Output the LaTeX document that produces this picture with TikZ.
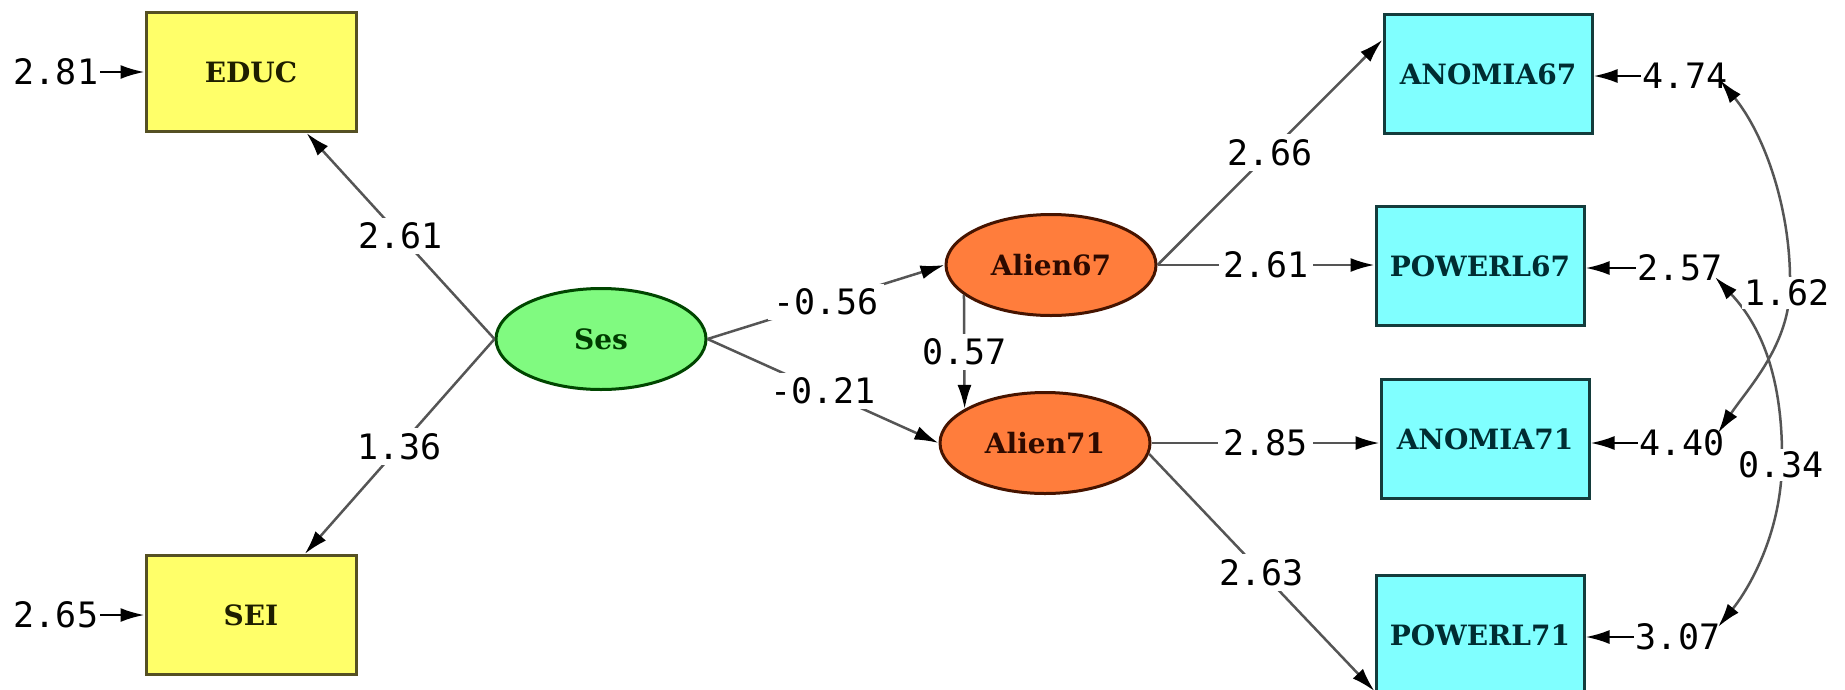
\documentclass[tikz,border=0pt]{standalone}
\usepackage{fontspec}
\usetikzlibrary{shapes.geometric,arrows.meta}
\newfontfamily\numfont{DejaVu Sans Mono}
\newfontfamily\namefont{DejaVu Serif}
\definecolor{yelfill}{RGB}{255,255,105}
\definecolor{yeldraw}{RGB}{85,80,35}
\definecolor{yeltext}{RGB}{30,30,0}
\definecolor{grnfill}{RGB}{128,250,128}
\definecolor{grndraw}{RGB}{0,70,0}
\definecolor{grntext}{RGB}{0,60,0}
\definecolor{orgfill}{RGB}{255,125,60}
\definecolor{orgdraw}{RGB}{70,20,0}
\definecolor{orgtext}{RGB}{45,10,0}
\definecolor{cyfill}{RGB}{128,255,255}
\definecolor{cydraw}{RGB}{20,60,60}
\definecolor{cytext}{RGB}{0,45,50}
\definecolor{linegray}{RGB}{85,85,85}
\tikzset{
  namefnt/.style={font=\namefont\bfseries\fontsize{28pt}{30pt}\selectfont},
  obs/.style={rectangle, line width=3pt, minimum width=210pt, minimum height=119pt, inner sep=0pt, namefnt},
  yel/.style={obs, fill=yelfill, draw=yeldraw, text=yeltext},
  cy/.style={obs, fill=cyfill, draw=cydraw, text=cytext, minimum width=208pt},
  lat/.style={ellipse, line width=3pt, minimum width=210pt, minimum height=101pt, inner sep=0pt, namefnt},
  sesst/.style={lat, fill=grnfill, draw=grndraw, text=grntext},
  alst/.style={lat, fill=orgfill, draw=orgdraw, text=orgtext},
  lbl/.style={fill=white, inner sep=5pt, font=\numfont\fontsize{35pt}{36pt}\selectfont, text=black},
  errlbl/.style={inner sep=2pt, font=\numfont\fontsize{35pt}{36pt}\selectfont, text=black},
  tipb/.tip={Latex[length=24pt,width=14pt,color=black]},
  arr/.style={draw=linegray, line width=2.5pt, -tipb},
  earr/.style={draw=black, line width=2.5pt, -tipb},
  cov/.style={draw=linegray, line width=2.5pt, tipb-tipb}
}
\begin{document}
\begin{tikzpicture}[x=1pt,y=-1pt]
\useasboundingbox (0,0) rectangle (1845,689);
\fill[white] (0,0) rectangle (1845,689);

% observed, left
\node[yel] (educ) at (251,72) {EDUC};
\node[yel] (sei) at (251,615) {SEI};
% latent
\node[sesst] (ses) at (601,339) {Ses};
\node[alst] (a67) at (1051,265) {Alien67};
\node[alst] (a71) at (1045,443) {Alien71};
% observed, right
\node[cy] (an67) at (1488,74) {ANOMIA67};
\node[cy] (pw67) at (1480,266) {POWERL67};
\node[cy] (an71) at (1485,439) {ANOMIA71};
\node[cy] (pw71) at (1480,635) {POWERL71};

% structural paths
\draw[arr] (ses.west) -- node[lbl] (l1) {2.61} (educ);
\draw[arr] (ses.west) -- node[lbl] (l2) {1.36} (sei);
\draw[arr] (ses.east) -- node[lbl] (l3) {-0.56} (a67.west);
\draw[arr] (ses.east) -- node[lbl] (l4) {-0.21} (a71.west);
\draw[arr] (a67.199) -- node[lbl] (l5) {0.57} (a71.157);
\draw[arr] (a67.east) -- node[lbl] (l6) {2.66} (an67.162);
\draw[arr] (a67.east) -- node[lbl] (l7) {2.61} (a67.east -| pw67.west);
\draw[arr] (a71.east) -- node[lbl] (l8) {2.85} (a71.east -| an71.west);
\draw[arr] (a71.-6) -- node[lbl] (l9) {2.63} (pw71.208);

% error variances
\node[errlbl] (e1) at (56,72) {2.81};
\node[errlbl] (e2) at (56,615) {2.65};
\node[errlbl] (e3) at (1685,76) {4.74};
\node[errlbl] (e4) at (1680,268) {2.57};
\node[errlbl] (e5) at (1682,443) {4.40};
\node[errlbl] (e6) at (1678,637) {3.07};
\draw[earr] (e1) -- (e1 -| educ.west);
\draw[earr] (e2) -- (e2 -| sei.west);
\draw[earr] (e3) -- (e3 -| an67.east);
\draw[earr] (e4) -- (e4 -| pw67.east);
\draw[earr] (e5) -- (e5 -| an71.east);
\draw[earr] (e6) -- (e6 -| pw71.east);

% error covariances
\coordinate (c1a) at (1720,80);
\coordinate (m1) at (1790,285);
\coordinate (c1b) at (1718,433);
\coordinate (c2a) at (1715,277);
\coordinate (m2) at (1782,463);
\coordinate (c2b) at (1718,627);
\draw[cov] (c1a) .. controls (1765,135) and (1791,210) .. (m1)
                 .. controls (1790,345) and (1748,388) .. (c1b);
\draw[cov] (c2a) .. controls (1765,330) and (1783,385) .. (m2)
                 .. controls (1781,535) and (1748,590) .. (c2b);
\node[lbl, inner sep=3pt] (k1) at (1787,293) {1.62};
\node[lbl, inner sep=3pt] (k2) at (1781,465) {0.34};
\end{tikzpicture}
\end{document}
